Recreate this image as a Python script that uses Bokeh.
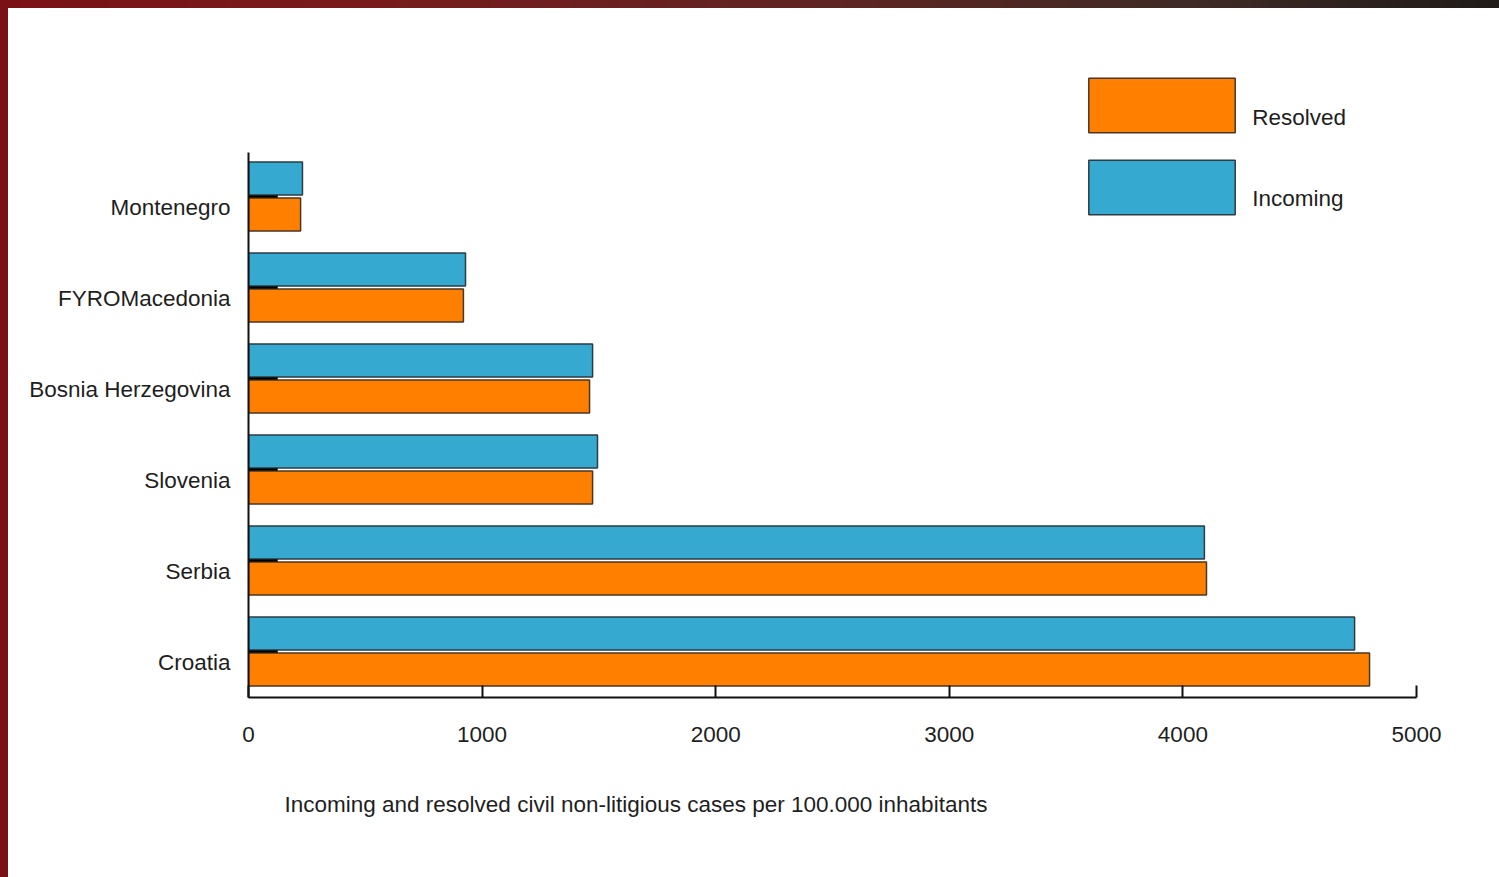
from bokeh.plotting import figure
from bokeh.models import (ColumnDataSource, Label, Legend, LegendItem, Title,
                          Range1d, FixedTicker, GlobalInlineStyleSheet)
from bokeh.embed import file_html
from bokeh.resources import INLINE

# ---- data ----
countries = ["Croatia", "Serbia", "Slovenia", "Bosnia Herzegovina", "FYROMacedonia", "Montenegro"]
incoming = [4735, 4092, 1494, 1473, 929, 231]
resolved = [4799, 4101, 1473, 1460, 920, 223]
x_ticks = [0, 1000, 2000, 3000, 4000, 5000]
x_title = "Incoming and resolved civil non-litigious cases per 100.000 inhabitants"
series_names = ["Resolved", "Incoming"]

# ---- layout helpers ----
FONT = "Liberation Sans"
FS = "22.5px"
TXT = "#1e1e1e"
pos = list(range(len(countries)))
pair = 0.121   # bar pair centre above the category label
off = 0.198    # half distance between the two bars
bh = 0.363     # bar thickness

src = ColumnDataSource(dict(
    pos=pos,
    inc_y=[q + pair + off for q in pos], res_y=[q + pair - off for q in pos],
    mid_y=[q + pair for q in pos],
    incoming=incoming, resolved=resolved,
    zero=[0] * len(pos), stub=[125] * len(pos),
))

p = figure(width=1491, height=869, output_backend="svg", toolbar_location=None,
           x_range=Range1d(0, 5000), y_range=Range1d(-0.385, 7.187),
           min_border_left=240, min_border_right=83, min_border_top=0,
           min_border_bottom=180)
p.outline_line_color = None
p.grid.visible = False
p.background_fill_color = "white"
p.border_fill_color = "white"

p.stylesheets = [GlobalInlineStyleSheet(css=(
    "html { background: linear-gradient(to right, #7a1117 0%, #781a1b 25%, "
    "#5e2421 55%, #3e2a25 80%, #1f1b19 100%); }"
    "body { margin: 0 !important; padding: 8px 0 0 8px; background-color: #ffffff; "
    "background-clip: content-box; }"))]

# bars
r_inc = p.hbar(y="inc_y", left=0, right="incoming", height=bh, source=src,
               fill_color="#35a9cf", line_color="#2e3b44", line_width=1.5)
r_res = p.hbar(y="res_y", left=0, right="resolved", height=bh, source=src,
               fill_color="#ff8000", line_color="#4a3623", line_width=1.5)
p.segment(x0="zero", y0="mid_y", x1="stub", y1="mid_y", source=src,
          line_color="black", line_width=2.5)

# x axis
p.xaxis.ticker = FixedTicker(ticks=x_ticks)
p.xaxis.major_tick_in = 12
p.xaxis.major_tick_out = 0
p.xaxis.minor_tick_line_color = None
p.xaxis.major_tick_line_width = 2
p.xaxis.major_tick_line_color = "#111111"
p.xaxis.axis_line_width = 2
p.xaxis.axis_line_color = "#111111"
p.xaxis.major_label_standoff = 29
p.xaxis.major_label_text_font = FONT
p.xaxis.major_label_text_font_size = FS
p.xaxis.major_label_text_color = TXT

# y axis: line limited to the bar area, country names as tick labels
p.yaxis.bounds = (-0.385, 5.604)
p.yaxis.ticker = FixedTicker(ticks=pos)
p.yaxis.major_label_overrides = {q: c for q, c in zip(pos, countries)}
p.yaxis.major_tick_in = 0
p.yaxis.major_tick_out = 0
p.yaxis.major_tick_line_color = None
p.yaxis.minor_tick_line_color = None
p.yaxis.major_label_standoff = 18
p.yaxis.major_label_text_font = FONT
p.yaxis.major_label_text_font_size = FS
p.yaxis.major_label_text_color = TXT
p.yaxis.axis_line_width = 2
p.yaxis.axis_line_color = "#111111"

# x title below the axis, left aligned
p.add_layout(Title(text=x_title, align="left", offset=36, standoff=91,
                   text_font=FONT, text_font_size=FS,
                   text_font_style="normal", text_color=TXT), "below")

# legend (boxes) + texts
legend = Legend(items=[LegendItem(label=series_names[0], renderers=[r_res]),
                       LegendItem(label=series_names[1], renderers=[r_inc])],
                location=(822, 476), orientation="vertical",
                glyph_width=183, glyph_height=68, spacing=14,
                padding=0, margin=0, label_standoff=1,
                border_line_color=None, background_fill_alpha=0,
                label_text_font=FONT, label_text_font_size="21px",
                label_text_alpha=0)
p.add_layout(legend, "center")
for name, ly in zip(series_names, [5.989, 5.099]):
    p.add_layout(Label(x=4297, y=ly, text=name, text_baseline="middle",
                       text_align="left", text_font=FONT, text_font_size=FS,
                       text_color=TXT))

open("out.html", "w").write(file_html(p, INLINE))
